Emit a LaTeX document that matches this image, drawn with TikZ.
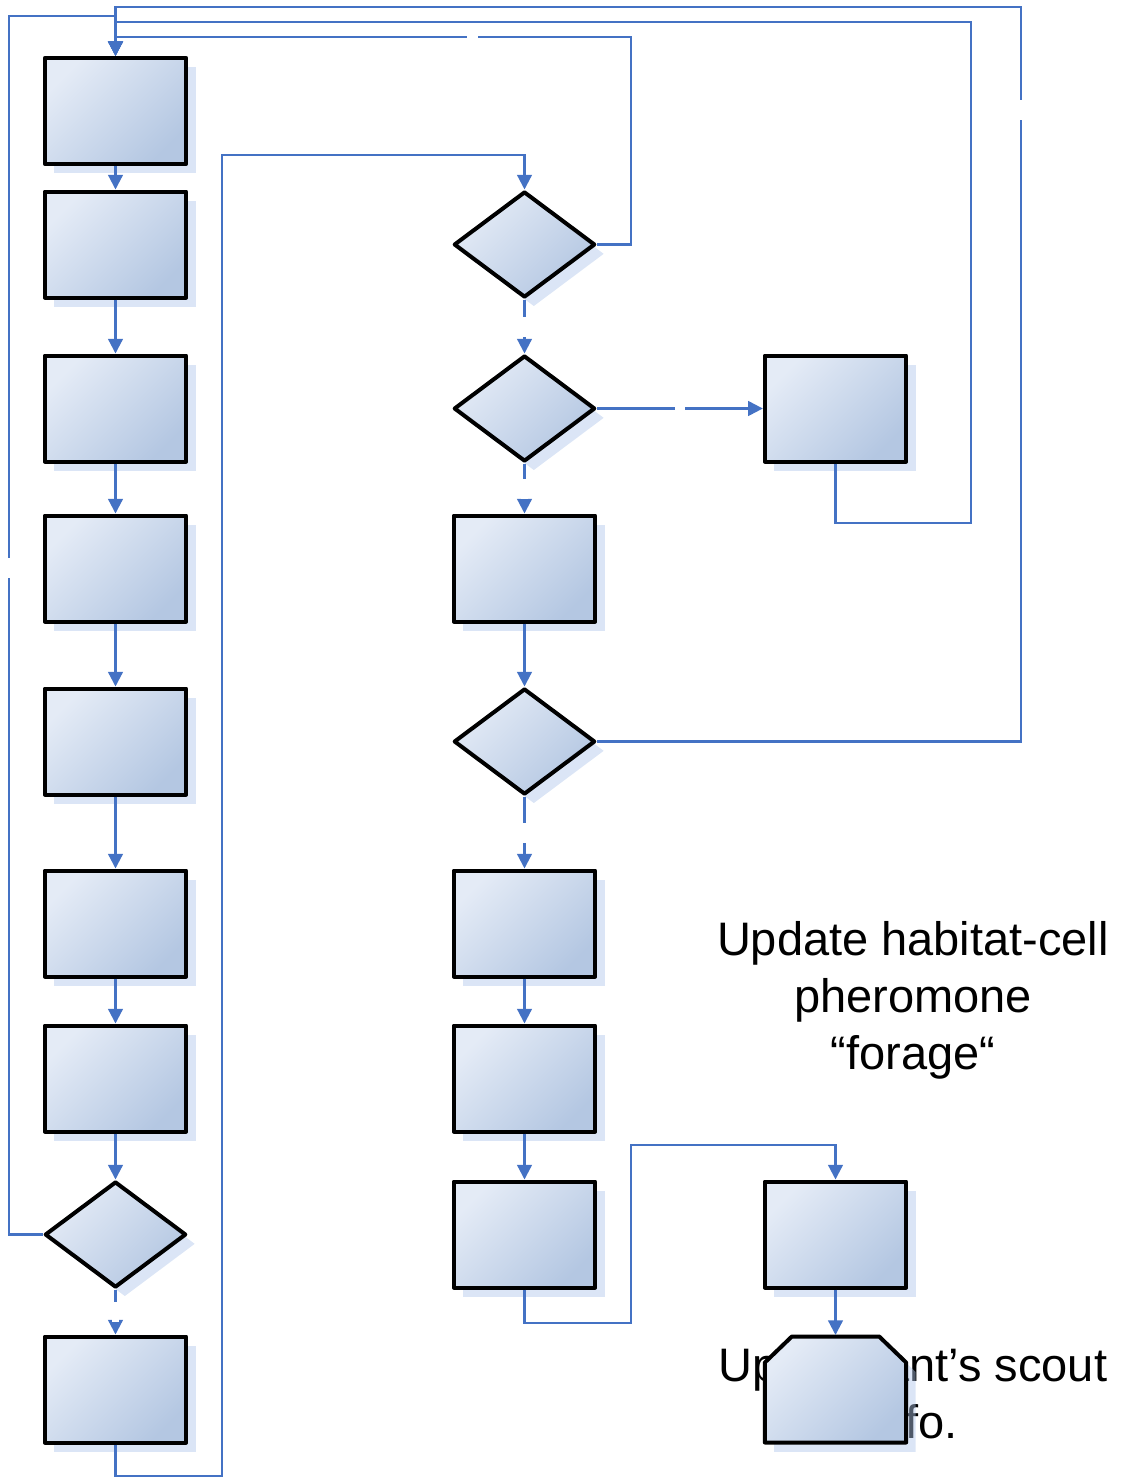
\documentclass[tikz,border=0pt]{standalone}
\usepackage{fontspec}
\setmainfont{Liberation Sans}
\usetikzlibrary{shapes.geometric,shadows,arrows.meta,calc}

\definecolor{flowblue}{RGB}{68,114,196}
\definecolor{fillhi}{RGB}{228,235,246}
\definecolor{filllo}{RGB}{180,199,226}
\definecolor{shadowcol}{RGB}{176,198,234}

\tikzset{
  shapebase/.style={draw=black, line width=3pt, inner sep=0pt, line join=round,
    top color=fillhi, bottom color=filllo, shading angle=45,
    drop shadow={shadow xshift=7pt, shadow yshift=-7pt, fill=shadowcol, opacity=0.45}},
  procbox/.style={shapebase, rectangle, minimum width=106pt, minimum height=79.5pt},
  decision/.style={shapebase, diamond, minimum width=106pt, minimum height=79.5pt},
  placeholder/.style={rectangle, inner sep=0pt, outer sep=0pt, minimum width=106pt, minimum height=79.5pt},
  link/.style={draw=flowblue, line width=1.7pt},
  arrowlink/.style={link, -{Triangle[length=11pt,width=11pt]}},
  vgap/.style={fill=white, inner sep=0pt, minimum width=5pt, minimum height=15pt},
  hgap/.style={fill=white, inner sep=0pt, minimum width=8pt, minimum height=5pt},
  caption/.style={font=\fontsize{35.25pt}{42.75pt}\selectfont, align=center, inner sep=0pt}
}

\begin{document}
\begin{tikzpicture}[x=0.75pt, y=-0.75pt]
\useasboundingbox (0,0) rectangle (1122,1478);

% free captions (base anchor sits on the last line)
\node[caption, anchor=base] (capA) at (913,1069) {Update habitat-cell\\pheromone\\“forage“};
\node[caption, anchor=base] (capB) at (913,1438) {Update ant’s scout\\info.};

% left column
\node[procbox] (L1) at (115.5,111) {};
\node[procbox] (L2) at (115.5,244.5) {};
\node[procbox] (L3) at (115.5,408.5) {};
\node[procbox] (L4) at (115.5,568.5) {};
\node[procbox] (L5) at (115.5,741.5) {};
\node[procbox] (L6) at (115.5,923.5) {};
\node[procbox] (L7) at (115.5,1078.5) {};
\node[decision] (L8) at (115.5,1234.5) {};
\node[procbox] (L9) at (115.5,1389.5) {};

% middle column
\node[decision] (M1) at (524.5,244.5) {};
\node[decision] (M2) at (524.5,408.5) {};
\node[procbox] (M3) at (524.5,568.5) {};
\node[decision] (M4) at (524.5,741.5) {};
\node[procbox] (M5) at (524.5,923.5) {};
\node[procbox] (M6) at (524.5,1078.5) {};
\node[procbox] (M7) at (524.5,1234.5) {};

% right column
\node[procbox] (R1) at (835.5,408.5) {};
\node[procbox] (R2) at (835.5,1234.5) {};
% terminal step: box with both upper corners cut off
\node[placeholder] (R3) at (835.5,1389.5) {};
\path[shapebase]
  (R3.south west) -- ($(R3.north west)+(0,26)$) -- ($(R3.north west)+(27,0)$)
  -- ($(R3.north east)+(-27,0)$) -- ($(R3.north east)+(0,26)$) -- (R3.south east) -- cycle;

% straight flow, left column
\draw[arrowlink] (L1) -- (L2);
\draw[arrowlink] (L2) -- (L3);
\draw[arrowlink] (L3) -- (L4);
\draw[arrowlink] (L4) -- (L5);
\draw[arrowlink] (L5) -- (L6);
\draw[arrowlink] (L6) -- (L7);
\draw[arrowlink] (L7) -- (L8);
\draw[arrowlink] (L8.south) -- node[vgap] {} (L9.north);

% straight flow, middle and right columns
\draw[arrowlink] (M1.south) -- node[vgap] {} (M2.north);
\draw[arrowlink] (M2.east) -- node[hgap] {} (R1.west);
\draw[arrowlink] (M2.south) -- node[vgap] {} (M3.north);
\draw[arrowlink] (M3) -- (M4);
\draw[arrowlink] (M4.south) -- node[vgap] {} (M5.north);
\draw[arrowlink] (M5) -- (M6);
\draw[arrowlink] (M6) -- (M7);
\draw[arrowlink] (R2.south) -- ($(R3.north)+(0,-1.5)$);

% return loops into the first step
\draw[arrowlink] (L8.west) -| (9,16) node[vgap, pos=0.7735] {} -| (L1.north);
\draw[arrowlink] (M1.east) -| (631,37) -| node[hgap, pos=0.154] {} (L1.north);
\draw[arrowlink] (R1.south) |- (971,523) |- (115.5,22) -- (L1.north);
\draw[arrowlink] (M4.east) -| node[vgap, pos=0.93] {} (1021,7) -| (L1.north);

% jumps between columns
\draw[arrowlink] (L9.south) |- (222,1476) |- (524.5,155) -- (M1.north);
\draw[arrowlink] (M7.south) |- (631,1323) |- (835.5,1145) -- (R2.north);
\end{tikzpicture}
\end{document}
